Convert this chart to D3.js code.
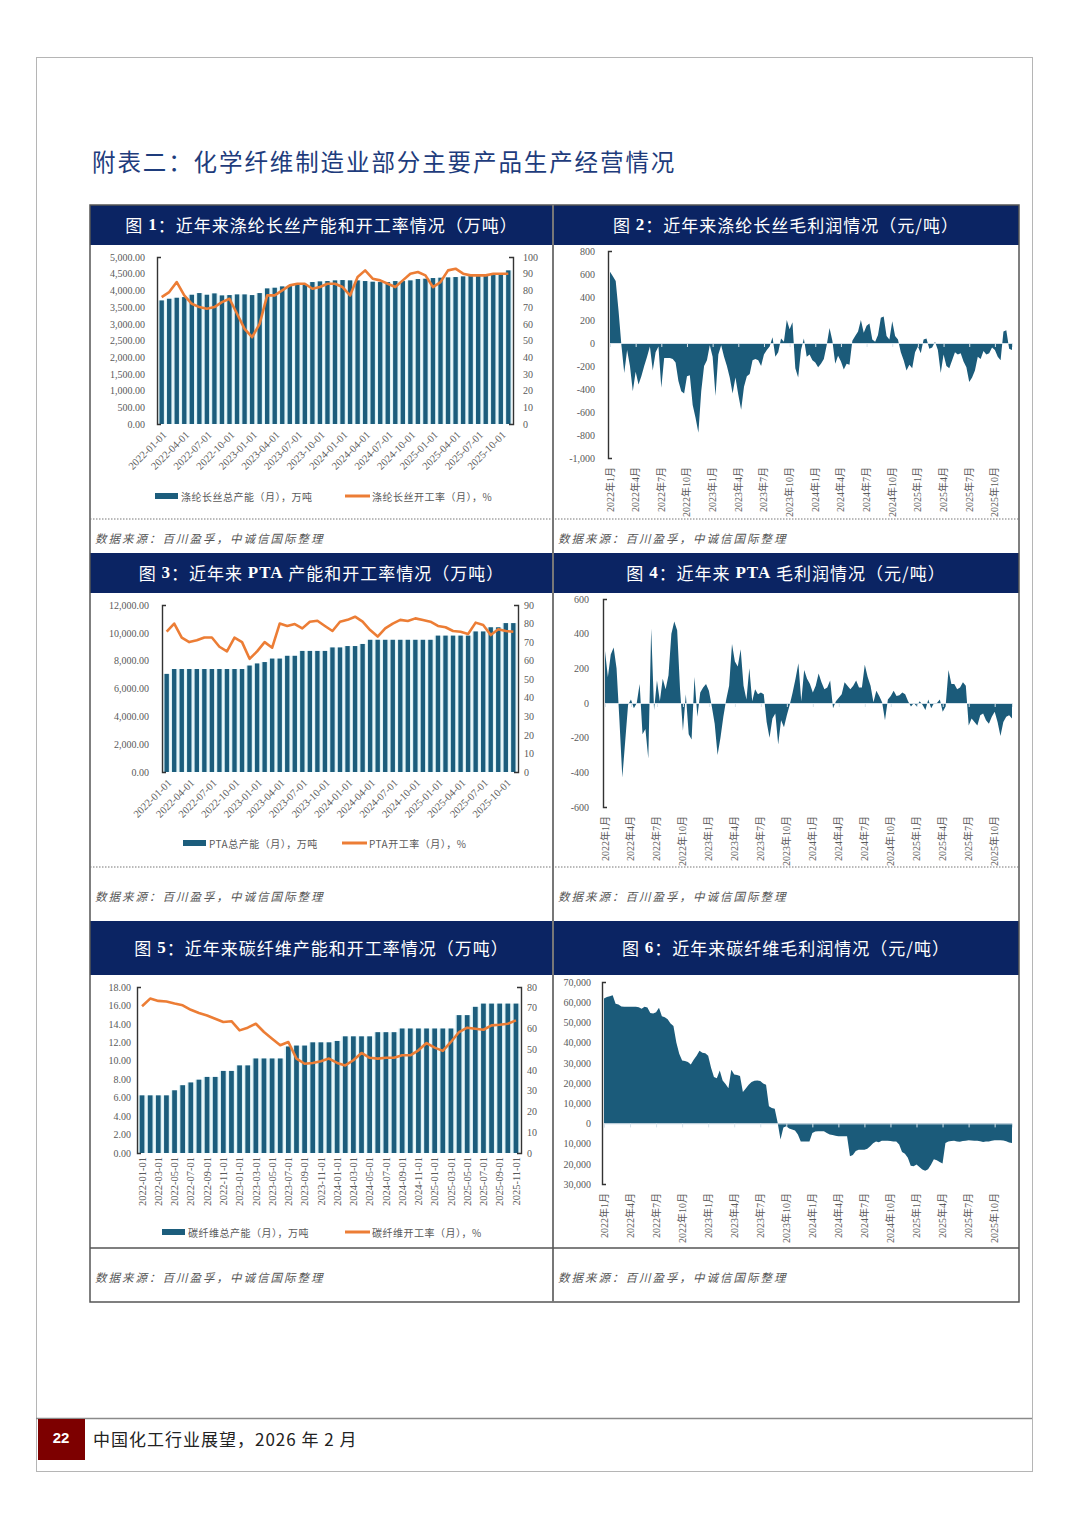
<!DOCTYPE html>
<html><head><meta charset="utf-8">
<script src="https://cdn.jsdelivr.net/npm/d3@7"></script>
<style>body{margin:0;background:#fff;} svg{display:block;}</style>
</head><body>
<svg id="page" width="1080" height="1528"></svg>
<script>
// ---------------- DATA ----------------
const months = [];
for (let y = 2022; y <= 2025; y++) for (let m = 1; m <= 12; m++) { if (y === 2025 && m > 11) break; months.push(`${y}-${String(m).padStart(2,'0')}-01`); }

const quarterLabels = ["2022-01-01","2022-04-01","2022-07-01","2022-10-01","2023-01-01","2023-04-01","2023-07-01","2023-10-01","2024-01-01","2024-04-01","2024-07-01","2024-10-01","2025-01-01","2025-04-01","2025-07-01","2025-10-01"];
const bimonthLabels = ["2022-01-01","2022-03-01","2022-05-01","2022-07-01","2022-09-01","2022-11-01","2023-01-01","2023-03-01","2023-05-01","2023-07-01","2023-09-01","2023-11-01","2024-01-01","2024-03-01","2024-05-01","2024-07-01","2024-09-01","2024-11-01","2025-01-01","2025-03-01","2025-05-01","2025-07-01","2025-09-01","2025-11-01"];
const cnQuarterLabels = ["2022年1月","2022年4月","2022年7月","2022年10月","2023年1月","2023年4月","2023年7月","2023年10月","2024年1月","2024年4月","2024年7月","2024年10月","2025年1月","2025年4月","2025年7月","2025年10月"];

// Fig 1: polyester filament capacity (万吨) & operating rate (%)
const filamentCapacity = [3700,3750,3780,3800,3870,3920,3870,3910,3850,3860,3880,3880,
  3860,3920,4060,4080,4120,4140,4170,4190,4250,4270,4280,4300,
  4310,4300,4300,4280,4260,4250,4250,4280,4280,4300,4340,4350,
  4370,4380,4390,4400,4420,4430,4440,4450,4460,4480,4600];
const filamentRate = [76,79,85,77,72,70,69,70,73,75,66,57,
  52,60,77,77,80,83,84,84,81,82,84,84,
  82,77,88,92,87,86,84,82,86,90,91,89,
  82,85,92,93,90,89,89,89,90,90,90];
// Fig 2: polyester filament gross profit (元/吨), ~3 readings per month
const filamentProfit = [620,580,540,280,-20,-260,-60,-200,-420,-250,
  -360,-290,-200,-120,-30,-240,-80,-30,-390,-130,
  -130,-130,-140,-170,-330,-420,-440,-290,-280,-540,
  -650,-780,-420,-200,-150,-20,-120,-460,-100,-20,
  -120,-200,-300,-440,-300,-450,-580,-380,-290,-270,
  -150,-140,-150,-200,-100,-60,-30,50,-120,-80,
  40,10,200,120,180,-220,-300,-60,40,-120,
  -100,-150,-170,-210,-180,-140,-20,130,20,-180,
  -110,-160,-230,-180,-190,20,60,100,200,90,
  150,170,30,10,70,220,230,60,30,190,
  60,30,-80,-150,-240,-190,-220,-80,-30,-90,
  30,40,-50,-40,10,-60,-260,-100,-200,-220,
  -150,-80,-100,-90,-160,-210,-340,-300,-240,-120,
  -140,-70,-100,-90,-40,-60,-120,-150,100,110,
  -50,-60];
// Fig 3: PTA capacity & operating rate
const ptaCapacity = [7050,7400,7400,7400,7400,7400,7400,7400,7400,7400,7400,7650,
  7800,7900,8150,8150,8350,8350,8700,8700,8700,8700,8950,8950,
  9050,9050,9200,9500,9500,9500,9500,9500,9500,9500,9500,9500,
  9800,9800,9800,9800,9800,10100,10100,10400,10400,10700,10700];
const ptaRate = [75.6,80,72.4,70,71,72.5,72.5,67.5,65,72.4,70,61,
  65,70,67,80,78.7,79.7,77.4,81,81.5,78.7,76,81,
  82,83.7,81,76.5,73,77.4,80,82,81.4,82.8,81.9,81,
  78.7,78,76,75.6,74.4,80.5,79.2,73.8,76.9,76,75.6];
// Fig 4: PTA gross profit
const ptaProfit = [300,150,280,320,200,-100,-430,-220,-10,20,
  -30,0,110,-180,-150,-320,430,-40,130,10,
  140,80,160,400,470,420,80,-160,50,-180,
  -210,150,-80,60,90,110,70,-20,-120,-300,
  -200,-80,20,100,340,240,210,310,100,20,
  200,10,80,50,60,50,-110,-200,-90,-60,
  -240,-100,-140,-70,-10,60,140,230,10,190,
  140,110,60,100,170,120,80,90,130,-30,
  10,30,50,120,100,80,100,130,90,90,
  220,150,100,5,70,40,5,-100,20,40,
  70,40,45,60,50,10,-20,0,-20,10,
  -10,-40,20,-30,0,0,20,-50,-20,190,
  110,110,80,90,120,100,-130,-90,-110,-130,
  -70,-60,-100,-120,-80,-50,-110,-190,-110,-80,
  -70,-90];
// Fig 5: carbon fibre capacity & operating rate
const cfCapacity = [6.25,6.25,6.25,6.25,6.8,7.35,7.65,7.95,8.25,8.25,8.9,8.9,
  9.5,9.5,10.25,10.25,10.25,10.25,11.55,11.65,11.65,12.0,12.0,12.0,
  12.15,12.65,12.65,12.65,12.65,13.1,13.1,13.1,13.5,13.5,13.5,13.5,
  13.5,13.5,13.5,14.95,14.95,15.85,16.2,16.2,16.2,16.2,16.2];
const cfRate = [70.7,74.4,73.3,73,72,71.2,69,67.5,66.3,64.7,63.1,63.5,
  59.1,60.4,62.3,58.3,55.1,51.9,53.5,45.5,43,43.4,44.2,45.5,
  43.4,42.2,44.7,48.2,45.9,45.5,45.9,45.9,47.1,47.1,49.5,53,
  50.8,49.2,53.5,58.3,60.4,59.9,59.4,61.5,61.8,62.3,63.9];
// Fig 6: carbon fibre gross profit
const cfProfit = [61800,62600,63000,63500,59200,58800,57900,57700,57700,57700,
  57700,57700,57500,56800,57700,57400,54700,54400,55000,57200,
  53000,52500,51500,49500,48200,40000,34500,31200,30900,30400,
  29200,31500,33500,36000,35000,34700,33500,27500,23000,22400,
  26200,21200,19500,17400,26500,24200,24000,23500,15500,17300,
  19100,20500,21100,21200,21000,19800,19100,8500,7600,7200,
  500,-8000,-2000,-1400,-2500,-3000,-3500,-5500,-8900,-8900,
  -8900,-8900,-4800,-4000,-3900,-3900,-3900,-4700,-5500,-5800,
  -6100,-6300,-6400,-6400,-6400,-16300,-15600,-13700,-13000,-13000,
  -13000,-12500,-11300,-9800,-9000,-9300,-8600,-8600,-8600,-8700,
  -8900,-8900,-10500,-14200,-15000,-17000,-21000,-21200,-20400,-21600,
  -22800,-23500,-22700,-20500,-17800,-18300,-19100,-19800,-9700,-8900,
  -8700,-8600,-9000,-9100,-8700,-8600,-8400,-8500,-8600,-8600,
  -8800,-9200,-9000,-8900,-8600,-8400,-8400,-8400,-8500,-8800,
  -9500,-9700];

const headers = [
  ["图 ","1","：近年来涤纶长丝产能和开工率情况（万吨）"],
  ["图 ","2","：近年来涤纶长丝毛利润情况（元/吨）"],
  ["图 ","3","：近年来 ","PTA"," 产能和开工率情况（万吨）"],
  ["图 ","4","：近年来 ","PTA"," 毛利润情况（元/吨）"],
  ["图 ","5","：近年来碳纤维产能和开工率情况（万吨）"],
  ["图 ","6","：近年来碳纤维毛利润情况（元/吨）"]
];
const sourceText = "数据来源：百川盈孚，中诚信国际整理";
const pageTitle = "附表二：化学纤维制造业部分主要产品生产经营情况";
const footerText = "中国化工行业展望，2026 年 2 月";
const pageNumber = "22";

// ---------------- STYLE ----------------
const NAVY = "#0b2463", BAR = "#1c5d7c", BARBG = "#dcf1f5", ORANGE = "#ec7d35", AREA = "#1b5b7a";
const SERIF = '"Liberation Serif","Times New Roman","Noto Sans CJK SC",serif';
const CJK = '"Noto Sans CJK SC","Liberation Serif",sans-serif';
const TICK = "#595959";
const loc = d3.formatLocale({decimal: ".", thousands: ",", grouping: [3], currency: ["", ""], minus: "-"});

const svg = d3.select("#page");

// page frame
svg.append("rect").attr("x", 36.5).attr("y", 57.5).attr("width", 996).attr("height", 1414)
  .attr("fill", "none").attr("stroke", "#b5b5b5").attr("stroke-width", 1);

// title
svg.append("text").attr("x", 92).attr("y", 171).text(pageTitle)
  .attr("font-family", CJK).attr("font-size", 23.5).attr("letter-spacing", 1.9).attr("fill", "#1e3c7c");

// headers
const panels = [
  {hx: 90, hy: 205, hh: 40}, {hx: 553, hy: 205, hh: 40},
  {hx: 90, hy: 553, hh: 40}, {hx: 553, hy: 553, hh: 40},
  {hx: 90, hy: 921, hh: 54}, {hx: 553, hy: 921, hh: 54}
];
panels.forEach((p, i) => {
  const w = (p.hx === 90) ? 463 : 466;
  svg.append("rect").attr("x", p.hx).attr("y", p.hy).attr("width", w).attr("height", p.hh).attr("fill", NAVY);
  const t = svg.append("text").attr("x", p.hx + w / 2).attr("y", p.hy + p.hh / 2 - 1)
    .attr("text-anchor", "middle").attr("dominant-baseline", "central")
    .attr("fill", "#fff").attr("font-size", 17).attr("letter-spacing", 1).attr("font-family", CJK);
  headers[i].forEach(s => {
    const latin = /^[A-Za-z0-9]+$/.test(s);
    t.append("tspan").text(s).attr("font-family", latin ? SERIF : CJK).attr("font-weight", latin ? "bold" : "normal");
  });
});

// source lines
[[95, 538], [558, 538], [95, 896], [558, 896], [95, 1277], [558, 1277]].forEach(([x, y]) => {
  svg.append("text").attr("x", x).attr("y", y).attr("dominant-baseline", "central").text(sourceText)
    .attr("font-family", CJK).attr("font-size", 11.5).attr("letter-spacing", 2).attr("font-style", "italic").attr("fill", "#555");
});

// ---------------- CHART HELPERS ----------------
function styleAxis(g) {
  g.select(".domain").attr("stroke", "#333").attr("stroke-width", 1.4);
  g.selectAll(".tick line").attr("stroke", "#333");
  g.selectAll(".tick text").attr("fill", TICK).attr("font-family", SERIF).attr("font-size", 10);
}

function dualChart(o) {
  const g = svg.append("g");
  const x = d3.scaleBand().domain(d3.range(o.cap.length)).range([o.x0, o.x1]).paddingOuter(0.12).paddingInner(0);
  const yL = d3.scaleLinear().domain([0, o.lMax]).range([o.y1, o.y0]);
  const yR = d3.scaleLinear().domain([0, o.rMax]).range([o.y1, o.y0]);
  const bw = x.bandwidth() * 0.58;
  g.selectAll("rect.bg").data(o.cap).join("rect").attr("class", "bg")
    .attr("x", (d, i) => x(i) + 0.3).attr("width", x.bandwidth() - 0.6)
    .attr("y", d => yL(d)).attr("height", d => o.y1 - yL(d)).attr("fill", BARBG);
  g.selectAll("rect.bar").data(o.cap).join("rect").attr("class", "bar")
    .attr("x", (d, i) => x(i) + (x.bandwidth() - bw) / 2).attr("width", bw)
    .attr("y", d => yL(d)).attr("height", d => o.y1 - yL(d)).attr("fill", BAR);

  const line = d3.line().x((d, i) => x(i) + x.bandwidth() / 2).y(d => yR(d));
  g.append("path").datum(o.rate).attr("d", line).attr("fill", "none")
    .attr("stroke", ORANGE).attr("stroke-width", 2.6).attr("stroke-linejoin", "round");

  const aL = g.append("g").attr("transform", `translate(${o.x0},0)`)
    .call(d3.axisLeft(yL).tickValues(d3.range(0, o.lMax + 1e-9, o.lStep)).tickFormat(o.lFmt)
      .tickSizeInner(0).tickSizeOuter(-4).tickPadding(o.lPad));
  styleAxis(aL);
  const aR = g.append("g").attr("transform", `translate(${o.x1},0)`)
    .call(d3.axisRight(yR).tickValues(d3.range(0, o.rMax + 1e-9, o.rStep)).tickFormat(d3.format("d"))
      .tickSizeInner(0).tickSizeOuter(-4).tickPadding(o.rPad));
  styleAxis(aR);

  // x labels
  o.labels.forEach(lab => {
    const i = months.indexOf(lab);
    const cx = x(i) + x.bandwidth() / 2;
    const t = g.append("text").text(lab).attr("fill", TICK).attr("font-family", SERIF).attr("font-size", 10.5)
      .attr("text-anchor", "end").attr("dy", "0.35em");
    if (o.rot === 45) t.attr("transform", `translate(${cx + 3},${o.y1 + 9}) rotate(-45)`);
    else t.attr("transform", `translate(${cx},${o.y1 + 4}) rotate(-90)`);
  });

  // legend
  const ly = o.legendY;
  g.append("rect").attr("x", o.leg[0]).attr("y", ly - 3).attr("width", 23).attr("height", 6).attr("fill", BAR);
  g.append("text").attr("x", o.leg[0] + 26).attr("y", ly).attr("dominant-baseline", "central").text(o.legText[0])
    .attr("font-family", CJK).attr("font-size", 10).attr("letter-spacing", 0.5).attr("fill", TICK);
  g.append("line").attr("x1", o.leg[1]).attr("x2", o.leg[1] + 25).attr("y1", ly).attr("y2", ly)
    .attr("stroke", ORANGE).attr("stroke-width", 3);
  g.append("text").attr("x", o.leg[1] + 27).attr("y", ly).attr("dominant-baseline", "central").text(o.legText[1])
    .attr("font-family", CJK).attr("font-size", 10).attr("letter-spacing", 0.5).attr("fill", TICK);
}

function areaChart(o) {
  const g = svg.append("g");
  const x = d3.scaleLinear().domain([0, 47]).range([o.x0, o.x1]);
  const y = d3.scaleLinear().domain([o.min, o.max]).range([o.y1, o.y0]);
  const area = d3.area().x((d, i) => x(i / 3)).y0(y(0)).y1(d => y(d));
  g.append("path").datum(o.data).attr("d", area).attr("fill", AREA);

  const zero = g.append("g").attr("transform", `translate(0,${y(0)})`)
    .call(d3.axisBottom(x).tickValues(d3.range(0, 46, 3)).tickSize(4).tickFormat(""));
  zero.select(".domain").attr("stroke", "#d6e2ea").attr("stroke-width", 1);
  zero.selectAll(".tick line").attr("stroke", "#d6e2ea");

  const aL = g.append("g").attr("transform", `translate(${o.x0 - 2},0)`)
    .call(d3.axisLeft(y).tickValues(d3.range(o.min, o.max + 1e-9, o.step)).tickFormat(o.fmt)
      .tickSizeInner(0).tickSizeOuter(-4).tickPadding(o.pad));
  styleAxis(aL);

  cnQuarterLabels.forEach((lab, j) => {
    g.append("text").text(lab).attr("fill", TICK).attr("font-family", SERIF).attr("font-size", 10)
      .attr("text-anchor", "end").attr("dy", "0.35em")
      .attr("transform", `translate(${x(j * 3)},${o.y1 + 9}) rotate(-90)`);
  });
}

// ---------------- CHARTS ----------------
dualChart({cap: filamentCapacity, rate: filamentRate, x0: 157, x1: 513, y0: 257, y1: 424,
  lMax: 5000, lStep: 500, lFmt: loc.format(",.2f"), lPad: 12, rMax: 100, rStep: 10, rPad: 10,
  labels: quarterLabels, rot: 45, legendY: 496, leg: [155, 345],
  legText: ["涤纶长丝总产能（月），万吨", "涤纶长丝开工率（月），%"]});

areaChart({data: filamentProfit, x0: 610, x1: 1012, y0: 251, y1: 458, min: -1000, max: 800, step: 200,
  fmt: loc.format(","), pad: 13});

dualChart({cap: ptaCapacity, rate: ptaRate, x0: 162, x1: 518, y0: 605, y1: 772,
  lMax: 12000, lStep: 2000, lFmt: loc.format(",.2f"), lPad: 13, rMax: 90, rStep: 10, rPad: 6,
  labels: quarterLabels, rot: 45, legendY: 843, leg: [183, 342],
  legText: ["PTA总产能（月），万吨", "PTA开工率（月），%"]});

areaChart({data: ptaProfit, x0: 605, x1: 1012, y0: 599, y1: 807, min: -600, max: 600, step: 200,
  fmt: loc.format(","), pad: 14});

dualChart({cap: cfCapacity, rate: cfRate, x0: 137, x1: 521, y0: 987, y1: 1153,
  lMax: 18, lStep: 2, lFmt: loc.format(".2f"), lPad: 6, rMax: 80, rStep: 10, rPad: 6,
  labels: bimonthLabels, rot: 90, legendY: 1232, leg: [162, 345],
  legText: ["碳纤维总产能（月），万吨", "碳纤维开工率（月），%"]});

areaChart({data: cfProfit, x0: 604, x1: 1012, y0: 982, y1: 1184, min: -30000, max: 70000, step: 10000,
  fmt: d => loc.format(",")(Math.abs(d)), pad: 11});

// ---------------- PANEL FRAME ----------------
const fr = svg.append("g").attr("fill", "none");
fr.append("rect").attr("x", 90).attr("y", 205).attr("width", 929).attr("height", 1097)
  .attr("stroke", "#555").attr("stroke-width", 1.5);
fr.append("line").attr("x1", 553).attr("x2", 553).attr("y1", 205).attr("y2", 1302).attr("stroke", "#777").attr("stroke-width", 2);
[519, 867].forEach(yy => fr.append("line").attr("x1", 90).attr("x2", 1019).attr("y1", yy).attr("y2", yy)
  .attr("stroke", "#777").attr("stroke-width", 1).attr("stroke-dasharray", "1.5,1.5"));
fr.append("line").attr("x1", 90).attr("x2", 1019).attr("y1", 1248).attr("y2", 1248).attr("stroke", "#555").attr("stroke-width", 1.5);

// ---------------- FOOTER ----------------
svg.append("line").attr("x1", 36).attr("x2", 1032).attr("y1", 1418.5).attr("y2", 1418.5).attr("stroke", "#8a8a8a").attr("stroke-width", 1.5);
svg.append("rect").attr("x", 38).attr("y", 1419).attr("width", 47).attr("height", 41).attr("fill", "#7d0000");
svg.append("text").attr("x", 61).attr("y", 1437).attr("text-anchor", "middle").attr("dominant-baseline", "central")
  .text(pageNumber).attr("fill", "#fff").attr("font-weight", "bold").attr("font-size", 15).attr("font-family", '"Liberation Sans",Arial,sans-serif');
svg.append("text").attr("x", 93).attr("y", 1438).attr("dominant-baseline", "central").text(footerText)
  .attr("fill", "#222").attr("font-size", 17).attr("letter-spacing", 1).attr("font-family", CJK);
</script>
</body></html>
